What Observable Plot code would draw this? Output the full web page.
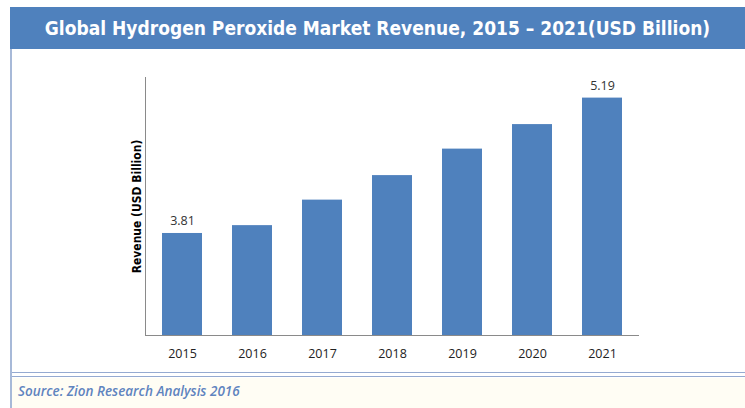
<!DOCTYPE html>
<html>
<head>
<meta charset="utf-8">
<script src="https://cdn.jsdelivr.net/npm/d3@7"></script>
<script src="https://cdn.jsdelivr.net/npm/@observablehq/plot@0.6"></script>
<style>
  html, body { margin: 0; padding: 0; background: #fff; }
  #page { position: relative; width: 745px; height: 408px; overflow: hidden; background: #fff; }
  #header { position: absolute; left: 10px; top: 7px; width: 735px; height: 42px; background: #4f81bd;
    color: #fff; font-family: "DejaVu Sans Condensed", "DejaVu Sans", sans-serif; font-weight: bold;
    font-size: 19px; line-height: 42px; text-align: center; white-space: nowrap; }
  #leftline { position: absolute; left: 10px; top: 49px; width: 2px; height: 359px; background: #a7b9d8; }
  #foot { position: absolute; left: 12px; top: 378px; width: 733px; height: 30px; background: #fffdf4; }
  #line1 { position: absolute; left: 12px; top: 372px; width: 733px; height: 1px; background: #95aad0; }
  #line2 { position: absolute; left: 12px; top: 376px; width: 733px; height: 1px; background: #95aad0; }
  #source { position: absolute; left: 18px; top: 382px; font-family: "Open Sans", sans-serif; font-style: italic;
    font-weight: 600; font-size: 13.5px; color: #5f84bf; white-space: nowrap; }
  #chart { position: absolute; left: 0; top: 50px; }
</style>
</head>
<body>
<div id="page">
  <div id="header">Global Hydrogen Peroxide Market Revenue, 2015 – 2021(USD Billion)</div>
  <div id="leftline"></div>
  <div id="chart"></div>
  <div id="foot"></div>
  <div id="line1"></div>
  <div id="line2"></div>
  <div id="source">Source: Zion Research Analysis 2016</div>
</div>
<script>
const years = ["2015", "2016", "2017", "2018", "2019", "2020", "2021"];
const revenue = [3.81, 3.89, 4.15, 4.40, 4.67, 4.92, 5.19];
const labeledYears = ["2015", "2021"];
const yMin = 2.77, yMax = 5.40;
const yLabel = "Revenue (USD Billion)";

const data = years.map((y, i) => ({year: y, value: revenue[i]}));

const chart = Plot.plot({
  width: 745,
  height: 320,
  marginLeft: 145,
  marginRight: 106,
  marginTop: 27,
  marginBottom: 35,
  style: {fontFamily: "'Open Sans', sans-serif", background: "transparent"},
  x: {domain: years, paddingInner: 0.43, paddingOuter: 0.22, label: null},
  y: {domain: [yMin, yMax], label: null, axis: null},
  marks: [
    Plot.barY(data, {x: "year", y1: yMin, y2: "value", fill: "#4f81bd"}),
    Plot.frame({anchor: "left", stroke: "#8a8a8a"}),
    Plot.ruleY([yMin], {stroke: "#8a8a8a"}),
    Plot.axisX({tickSize: 0, tickPadding: 14, fontSize: 12.5, fill: "#222"}),
    Plot.text(data.filter(d => labeledYears.includes(d.year)), {
      x: "year", y: "value", text: d => d.value.toFixed(2),
      lineAnchor: "bottom", dy: -8, fontSize: 12.5, fill: "#333"
    }),
    Plot.text([yLabel], {
      frameAnchor: "left", textAnchor: "middle", rotate: -90, dx: -8, fontSize: 12, fontWeight: "bold",
      fill: "#000", fontFamily: "'DejaVu Sans Condensed', sans-serif"
    })
  ]
});
document.getElementById("chart").appendChild(chart);
</script>
</body>
</html>
